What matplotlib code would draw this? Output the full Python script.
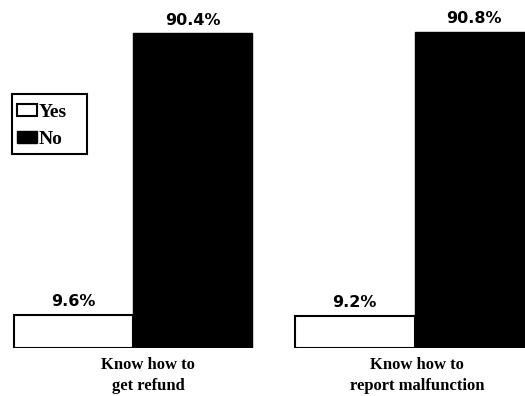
import matplotlib.pyplot as plt
from matplotlib.patches import Rectangle
import numpy as np

# data
categories = ["Know how to\nget refund", "Know how to\nreport malfunction"]
yes_values = [9.6, 9.2]
no_values = [90.4, 90.8]
series_names = ["Yes", "No"]

W, H = 525, 396


def make_chart():
    fig = plt.figure(figsize=(W / 100, H / 100), dpi=100)
    ax = fig.add_axes([0, 48 / H, 1, 348 / H])

    x = np.arange(len(categories))
    width = 0.4245

    bars_yes = ax.bar(x - width / 2, yes_values, width, color="white",
                      edgecolor="black", linewidth=1.5, label=series_names[0])
    bars_no = ax.bar(x + width / 2, no_values, width, color="black",
                     edgecolor="black", linewidth=1.0, label=series_names[1])

    # value labels above each bar
    for bars in (bars_yes, bars_no):
        for b in bars:
            h = b.get_height()
            ax.annotate(f"{h:.1f}%", (b.get_x() + b.get_width() / 2, h),
                        xytext=(0, 4), textcoords="offset points",
                        ha="center", va="bottom", fontsize=11.5,
                        fontweight="bold", family="DejaVu Sans")

    # category labels under the groups
    label_shift = [0.053, 0.01]
    for i, cat in enumerate(categories):
        fig.text((x[i] + label_shift[i] + 133 / 281.5) * 281.5 / W, 1 - 357 / H, cat,
                 ha="center", va="top", fontsize=12, fontweight="bold",
                 family="Liberation Serif", linespacing=1.45)

    ax.set_xlim(-133 / 281.5, (W - 133) / 281.5)
    ax.set_ylim(0, 100)
    ax.axis("off")

    # legend without its own frame, box drawn separately
    ax.legend(loc="upper left", bbox_to_anchor=(17 / W, 1 - 104 / 348),
              frameon=False,
              prop={"family": "Liberation Serif", "weight": "bold", "size": 14},
              handlelength=1.05, handleheight=0.6, handletextpad=0.05,
              borderpad=0.0, labelspacing=0.5, borderaxespad=0)
    fig.patches.append(Rectangle((12 / W, 1 - 154 / H), 75 / W, 60 / H,
                                 transform=fig.transFigure, fill=False,
                                 edgecolor="black", linewidth=1.5))

    fig.savefig("out.png", dpi=100)
    plt.close(fig)


if __name__ == "__main__":
    make_chart()
